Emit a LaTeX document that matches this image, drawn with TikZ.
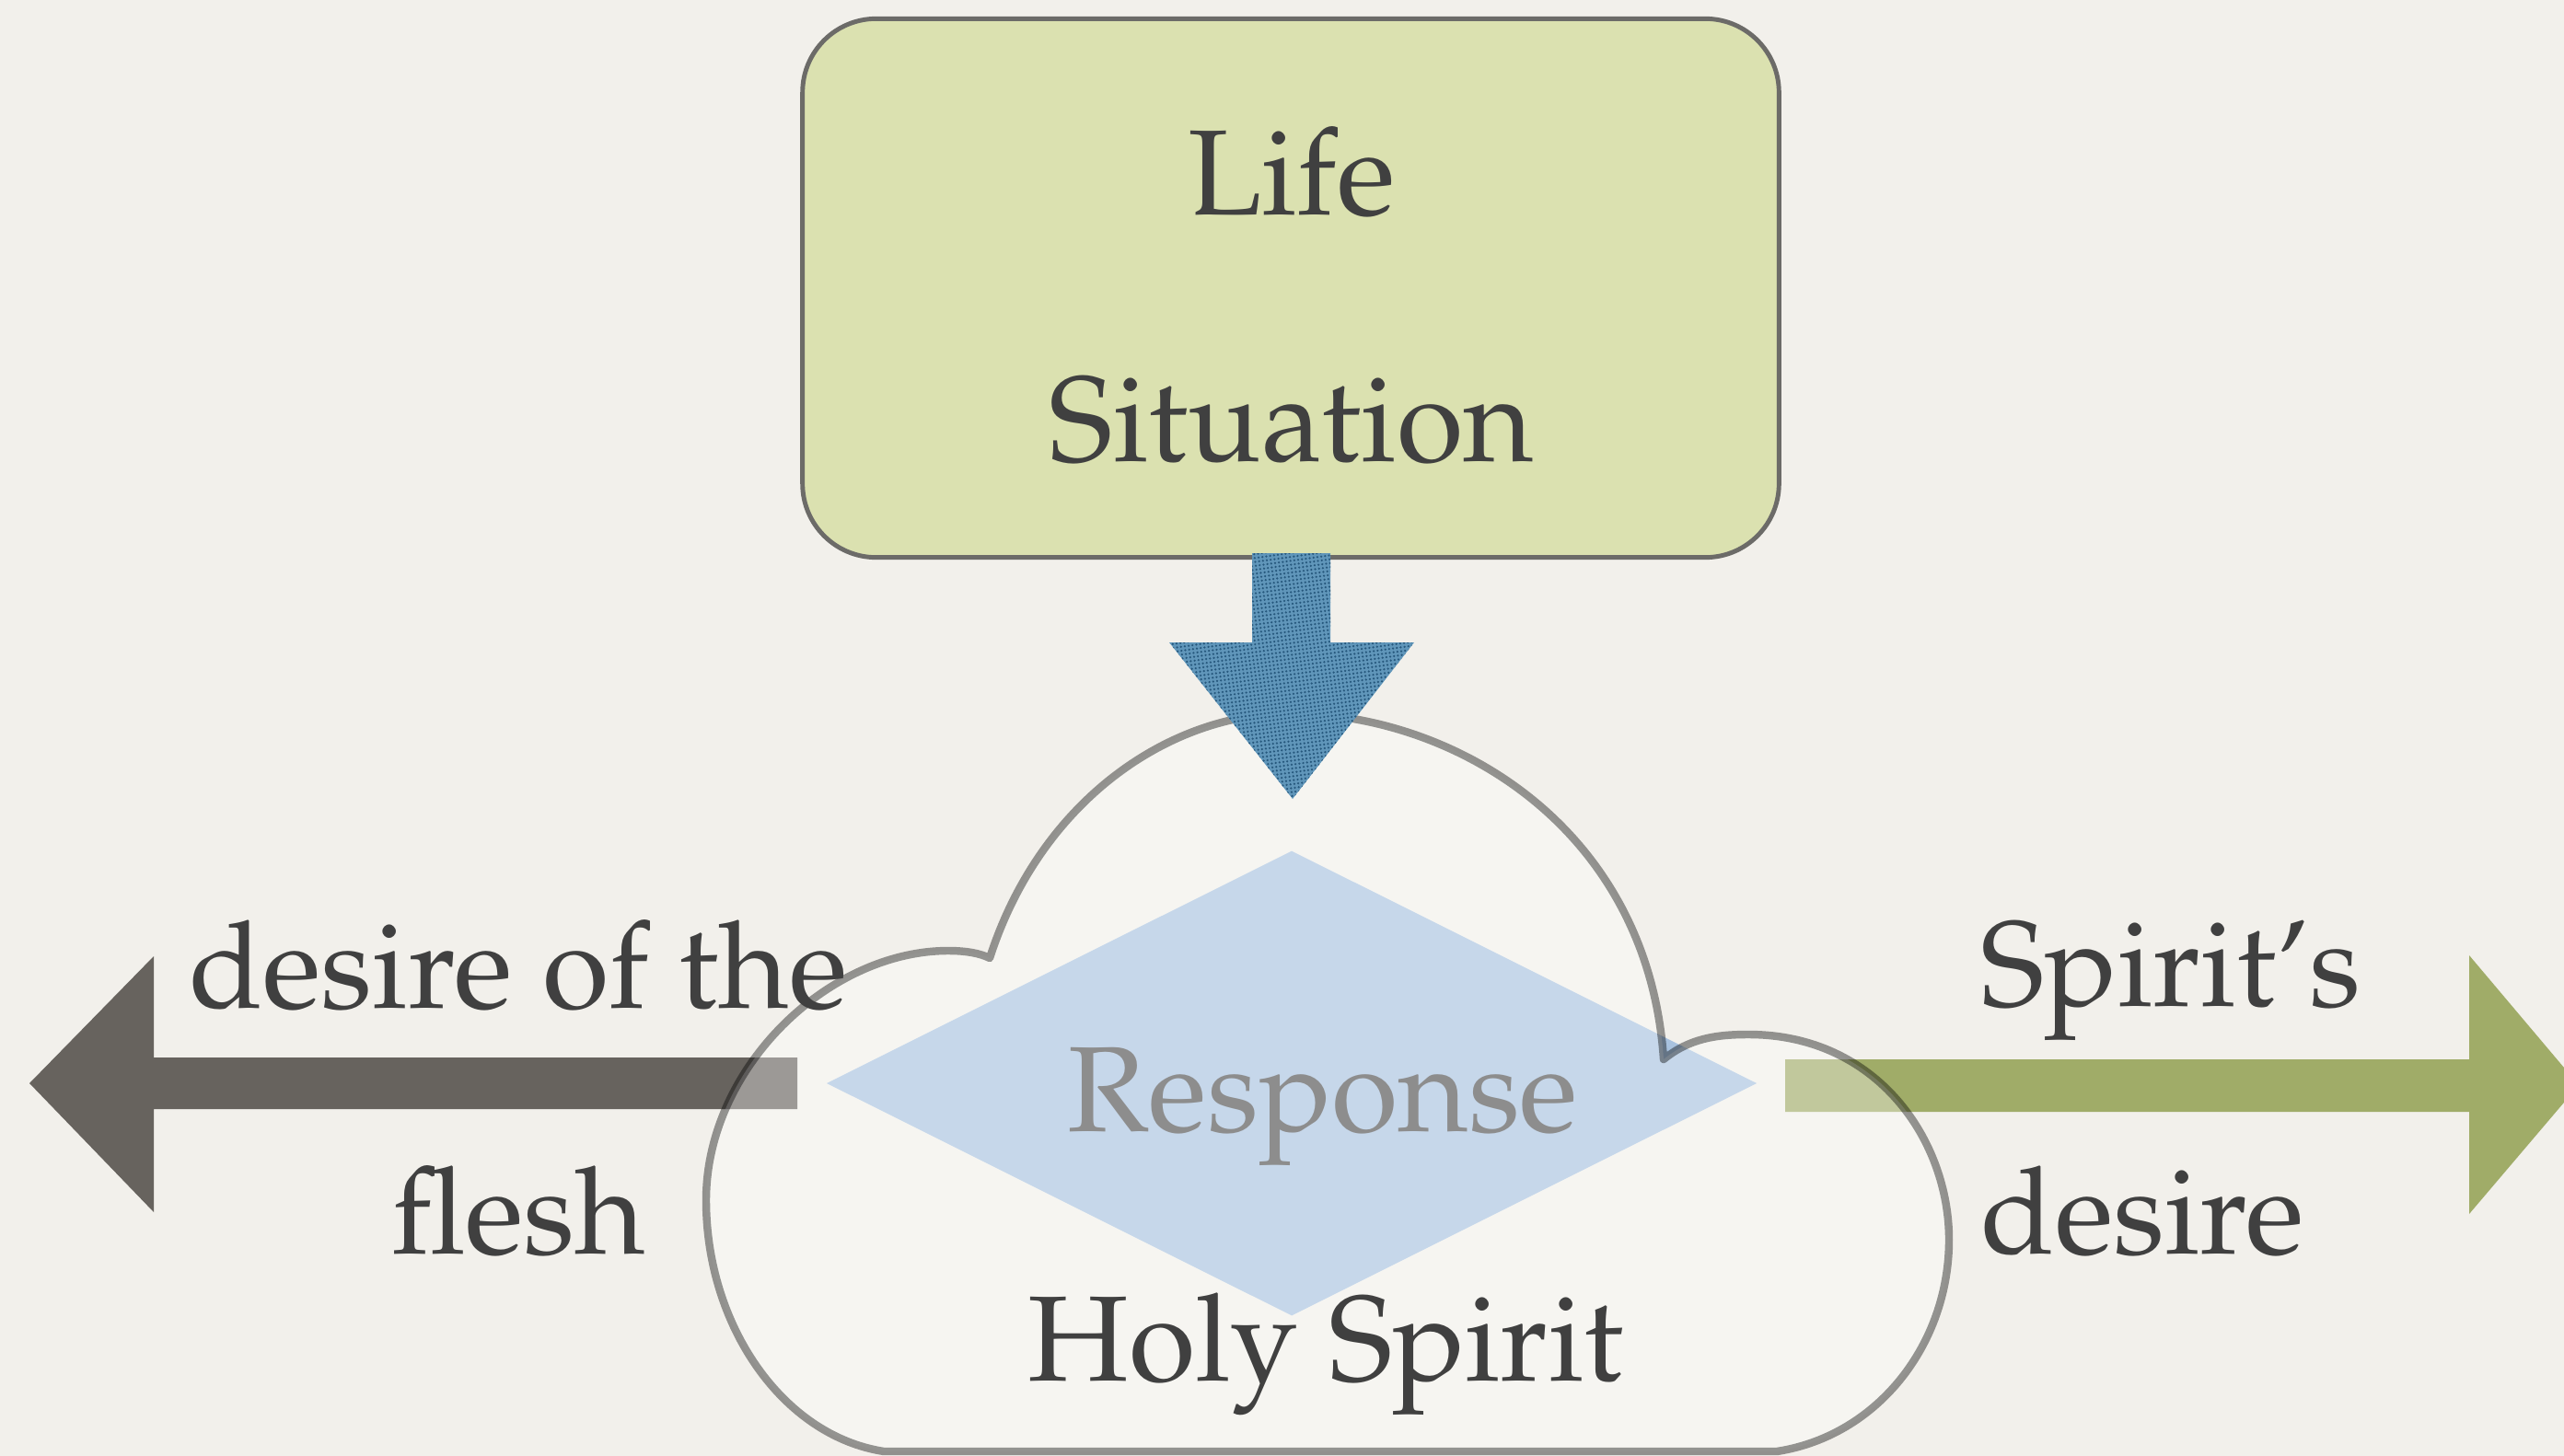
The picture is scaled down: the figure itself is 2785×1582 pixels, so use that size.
\documentclass[tikz,border=0pt]{standalone}
\usepackage[T1]{fontenc}
\usepackage{mathpazo}
\usepackage{tikz}
\usetikzlibrary{shapes,arrows,positioning,patterns.meta}
\definecolor{paper}{RGB}{242, 240, 235}
\definecolor{ink}{RGB}{64, 64, 64}
\definecolor{lifegreen}{RGB}{219, 225, 176}
\definecolor{boxline}{RGB}{108, 107, 104}
\definecolor{downblue}{RGB}{96, 150, 186}
\definecolor{dotblue}{RGB}{38, 88, 125}
\definecolor{fleshgrey}{RGB}{103, 99, 94}
\definecolor{spiritgreen}{RGB}{160, 172, 104}
\definecolor{respblue}{RGB}{168, 194, 223}
\tikzdeclarepattern{name=fine dots, type=uncolored, bottom left={(-.6pt,-.6pt)}, top right={(.6pt,.6pt)}, tile size={(1.2pt,1.2pt)}, tile transformation={rotate=8}, code={\fill (0,0) circle (0.36pt);}}
\tikzstyle{words} = [text=ink, font=\fontsize{37.5}{45}\selectfont, inner sep=0pt, anchor=base]
\tikzstyle{sitbox} = [rectangle, rounded corners=0.8cm, draw=boxline, line width=1.4pt, fill=lifegreen, minimum width=10.6cm, minimum height=5.85cm]
\tikzstyle{resp} = [diamond, fill=respblue, minimum width=10.1cm, minimum height=5.05cm, inner sep=0pt]
\tikzstyle{cloudline} = [draw=black, draw opacity=0.4, line width=2.4pt, fill=white, fill opacity=0.35, line join=round]
\tikzstyle{blockarrow} = [draw=none]

\begin{document}
\begin{tikzpicture}[x=0.01cm, y=-0.01cm]

% paper =============================
\useasboundingbox (0,0) rectangle (2785,1582);
\fill[paper] (0,0) rectangle (2785,1582);

% arrows left and right
\path[blockarrow, fill=fleshgrey] (866,1149) -- (167,1149) -- (167,1039) -- (32,1177) -- (167,1317) -- (167,1205) -- (866,1205) -- cycle;
\path[blockarrow, fill=spiritgreen] (1939,1151) -- (2682,1151) -- (2682,1038) -- (2801,1179) -- (2682,1319) -- (2682,1208) -- (1939,1208) -- cycle;

% response and cloud
\node[resp] (response) at (1403,1177) {};
\path[cloudline] (1075,1041) .. controls (1130,870) and (1270,775) .. (1401,775)
  .. controls (1580,775) and (1790,900) .. (1807,1151)
  .. controls (1835,1128) and (1865,1124) .. (1899,1124)
  .. controls (2040,1124) and (2117,1240) .. (2117,1347)
  .. controls (2117,1460) and (2040,1560) .. (1930,1577)
  -- (960,1577)
  .. controls (850,1560) and (767,1440) .. (767,1304)
  .. controls (767,1160) and (900,1033) .. (1030,1033)
  .. controls (1050,1033) and (1065,1036) .. (1075,1041) -- cycle;

% life situation
\node[sitbox] (situation box) at (1402,313) {};
\path[blockarrow, fill=downblue, postaction={pattern=fine dots, pattern color=dotblue}] (1360,601) -- (1445,601) -- (1445,698) -- (1536,698) -- (1404,868) -- (1270,698) -- (1360,698) -- cycle;

% texts
\node[words] (life) at (1403,234) {Life};
\node[words, below=2.67cm of life.base, anchor=base] (situation) {Situation};
\node[words] (flesh1) at (563,1095) {desire of the};
\node[words, below=2.67cm of flesh1.base, anchor=base] (flesh2) {flesh};
\node[words, anchor=base west] (spirit1) at (2151,1093) {Spirit's};
\node[words, below=2.69cm of spirit1.base west, anchor=base west] (spirit2) {desire};
\node[words, text=ink!60] (resptext) at (1437,1229) {Response};
\node[words] (holy) at (1440,1500) {Holy Spirit};

\end{tikzpicture}
\end{document}
